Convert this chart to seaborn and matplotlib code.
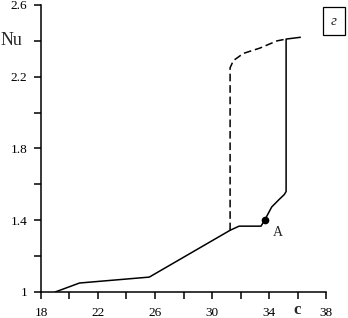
import matplotlib
matplotlib.use("Agg")
import matplotlib.pyplot as plt
import seaborn as sns

# -----------------------
# DATA
# -----------------------
lower_c = [19.0, 20.7, 25.6, 31.27, 31.9, 33.44, 33.72, 34.19, 34.7, 35.07, 35.2, 35.2, 36.2]
lower_nu = [1.0, 1.05, 1.083, 1.344, 1.367, 1.367, 1.404, 1.474, 1.515, 1.543, 1.56, 2.41, 2.42]

upper_c = [31.27, 31.27, 31.5, 32.2, 33.37, 34.56, 35.2]
upper_nu = [1.344, 2.25, 2.29, 2.33, 2.36, 2.40, 2.41]

point_a = (33.72, 1.404)

x_ticks = [18, 20, 22, 24, 26, 28, 30, 32, 34, 36, 38]
x_labels = ["18", "", "22", "", "26", "", "30", "", "34", "", "38"]
y_ticks = [1.0, 1.2, 1.4, 1.6, 1.8, 2.0, 2.2, 2.4, 2.6]
y_labels = ["1", "", "1.4", "", "1.8", "", "2.2", "", "2.6"]

# -----------------------
# STYLE
# -----------------------
sns.set_style("ticks")
plt.rcParams["font.family"] = ["Liberation Serif", "DejaVu Serif"]

fig = plt.figure(figsize=(3.48, 3.18), dpi=100)
ax = fig.add_axes([0.1178, 0.0818, 0.819, 0.9025])

sns.lineplot(x=lower_c, y=lower_nu, sort=False, estimator=None,
             color="black", linewidth=1.1, ax=ax)
sns.lineplot(x=upper_c, y=upper_nu, sort=False, estimator=None,
             color="black", linewidth=1.1, linestyle=(0, (5, 2.5)), ax=ax)
ax.plot(*point_a, "o", color="black", markersize=4.5)
ax.text(point_a[0] + 0.9, point_a[1] - 0.09, "A", fontsize=10, ha="center")

# -----------------------
# AXES
# -----------------------
ax.set_xlim(18, 38)
ax.set_ylim(1, 2.6)
ax.set_xticks(x_ticks)
ax.set_xticklabels(x_labels)
ax.set_yticks(y_ticks)
ax.set_yticklabels(y_labels)
ax.tick_params(direction="out", length=5, width=1.1, labelsize=9.5, colors="black")
ax.tick_params(axis="x", pad=6)
ax.tick_params(axis="y", pad=5)
for side in ["top", "right"]:
    ax.spines[side].set_visible(False)
for side in ["left", "bottom"]:
    ax.spines[side].set_linewidth(1.1)
    ax.spines[side].set_color("black")
ax.set_xlabel("")
ax.set_ylabel("")

ax.text(15.96, 2.4, "Nu", fontsize=13, ha="center", va="center", clip_on=False)
ax.text(36.0, 0.9, "c", fontsize=12, fontweight="bold", ha="center", va="center", clip_on=False)
ax.text(38.56, 2.51, "г", fontsize=11, style="italic", ha="center", va="center", clip_on=False,
        bbox=dict(boxstyle="square,pad=0.5", facecolor="white", edgecolor="black", linewidth=0.9))

fig.savefig("out.png", dpi=100)
